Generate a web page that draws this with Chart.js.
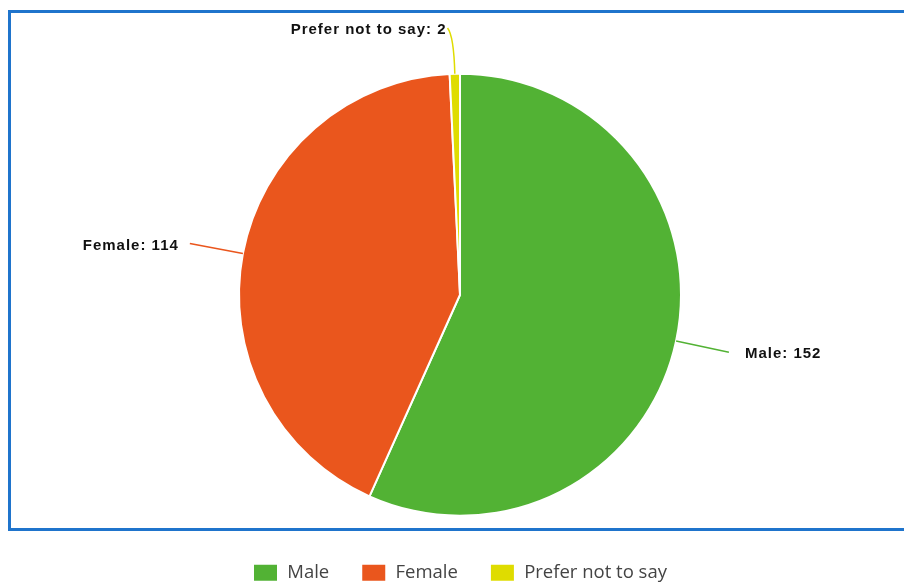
<!DOCTYPE html>
<html>
<head>
<meta charset="utf-8">
<script src="https://cdn.jsdelivr.net/npm/chart.js@4.4.1/dist/chart.umd.min.js"></script>
<style>
  html, body { margin: 0; padding: 0; background: #fff; }
  #wrap { width: 904px; height: 583px; }
</style>
</head>
<body>
<div id="wrap"><canvas id="genderChart" width="904" height="583"></canvas></div>
<script>
const labels = ['Male', 'Female', 'Prefer not to say']
const counts = [152, 114, 2]
const colors = ['#52b234', '#ea561d', '#dfdc00']

// blue frame behind the pie
const framePlugin = {
    id: 'frame',
    beforeDraw(chart) {
        const ctx = chart.ctx
        ctx.save()
        ctx.strokeStyle = '#1f74cc'
        ctx.lineWidth = 3
        ctx.strokeRect(9.5, 11.5, 912, 518)
        ctx.restore()
    }
}

// "Label: value" callouts with leader lines
const calloutPlugin = {
    id: 'callouts',
    afterDatasetsDraw(chart) {
        const ctx = chart.ctx
        const meta = chart.getDatasetMeta(0)
        ctx.save()
        ctx.font = 'bold 15px "Liberation Sans", Arial, sans-serif'
        ctx.letterSpacing = '1px'
        ctx.textBaseline = 'middle'
        meta.data.forEach((arc, i) => {
            const p = arc.getProps(['x', 'y', 'startAngle', 'endAngle', 'outerRadius'])
            const mid = (p.startAngle + p.endAngle) / 2
            const cos = Math.cos(mid), sin = Math.sin(mid)
            const r = p.outerRadius
            const sx = p.x + cos * r, sy = p.y + sin * r
            const cx = p.x + cos * (r + 42), cy = p.y + sin * (r + 42)
            let ex = p.x + cos * (r + 54), ey = p.y + sin * (r + 54)
            const side = cos >= 0 ? 1 : -1
            let gap = side > 0 ? 16 : 11
            if (ey < 28) {
                // no room above the pie: bend the line sideways
                ey = 28
                ex = ex + side * 6
                gap = 1
            }
            ctx.strokeStyle = colors[i]
            ctx.lineWidth = 1.5
            ctx.beginPath()
            ctx.moveTo(sx, sy)
            ctx.quadraticCurveTo(cx, Math.max(cy, 36), ex, ey)
            ctx.stroke()
            ctx.fillStyle = '#111'
            ctx.textAlign = side > 0 ? 'left' : 'right'
            ctx.fillText(labels[i] + ': ' + counts[i], ex + side * gap, ey + 2)
        })
        ctx.restore()
    }
}

const ctx = document.getElementById('genderChart').getContext('2d')
new Chart(ctx, {
    type: 'pie',
    data: {
        labels: labels,
        datasets: [
            {
                data: counts,
                backgroundColor: colors,
                borderColor: '#ffffff',
                borderWidth: 2,
                radius: 221
            }
        ]
    },
    options: {
        responsive: false,
        animation: false,
        layout: { padding: { top: 58, left: 16, right: 0, bottom: -9 } },
        plugins: {
            tooltip: { enabled: false },
            legend: {
                position: 'bottom',
                labels: {
                    boxWidth: 25,
                    boxHeight: 18,
                    padding: 32,
                    color: '#444',
                    font: { family: '"Open Sans", sans-serif', size: 18.5 }
                }
            }
        }
    },
    plugins: [framePlugin, calloutPlugin]
})
</script>
</body>
</html>
